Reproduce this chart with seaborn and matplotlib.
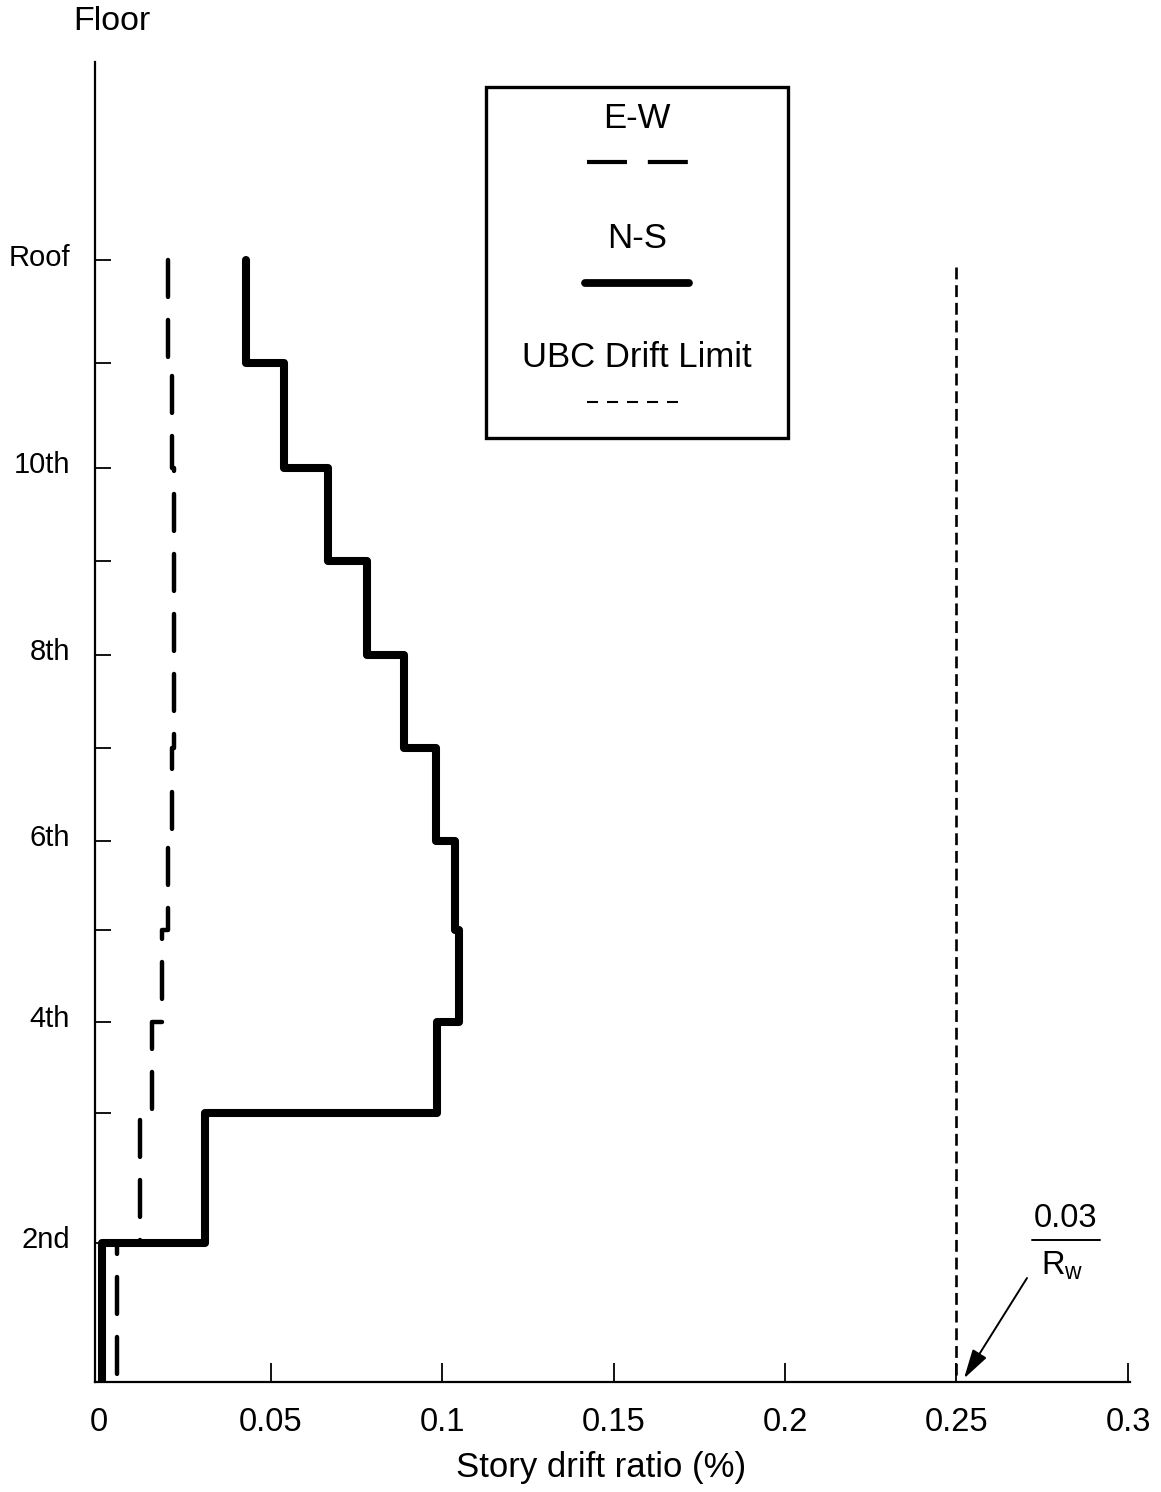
import numpy as np
import pandas as pd
import matplotlib
matplotlib.use("Agg")
import matplotlib.pyplot as plt
import seaborn as sns
from matplotlib.lines import Line2D
from matplotlib.patches import Rectangle
from matplotlib.transforms import ScaledTranslation

# Floor levels above grade (ft), ground to roof
floor_names = ["Ground", "2nd", "3rd", "4th", "5th", "6th", "7th",
               "8th", "9th", "10th", "11th", "Roof"]
floor_elev = [0.0, 19.6, 37.9, 50.7, 63.6, 76.2, 89.3,
              102.4, 115.6, 128.8, 143.5, 158.0]
floor_tick_labels = ["2nd", "", "4th", "", "6th", "", "8th", "", "10th", "", "Roof"]

# Peak story drift ratio (%), story 1 (ground-2nd) up to story 11 (11th-roof)
drift_ns = [0.0008, 0.0310, 0.0985, 0.1050, 0.1038, 0.0983,
            0.0889, 0.0781, 0.0668, 0.0539, 0.0428]
drift_ew = [0.0052, 0.0120, 0.0154, 0.0184, 0.0202, 0.0213,
            0.0219, 0.0219, 0.0219, 0.0212, 0.0202]

# UBC drift limit = 0.03 / Rw
ubc_limit = 0.25

x_ticks = [0, 0.05, 0.1, 0.15, 0.2, 0.25, 0.3]
x_tick_labels = ["0", "0.05", "0.1", "0.15", "0.2", "0.25", "0.3"]


def story_profile(drift, elev):
    """Step profile of a per-story quantity, traced from the roof down."""
    xs, ys = [], []
    for i in range(len(drift) - 1, -1, -1):
        xs += [drift[i], drift[i]]
        ys += [elev[i + 1], elev[i]]
    return pd.DataFrame({"drift": xs, "elev": ys})


sns.set_theme(style="white")
plt.rcParams["font.family"] = ["Liberation Sans", "DejaVu Sans"]
plt.rcParams["mathtext.fontset"] = "custom"
plt.rcParams["mathtext.rm"] = "Liberation Sans"
plt.rcParams["text.color"] = "black"
plt.rcParams["axes.labelcolor"] = "black"
plt.rcParams["xtick.color"] = "black"
plt.rcParams["ytick.color"] = "black"

fig = plt.figure(figsize=(11.61, 14.92), dpi=100)
ax = fig.add_axes([0.0818, 0.0737, 0.8915, 0.8847])

ns_df = story_profile(drift_ns, floor_elev)
ew_df = story_profile(drift_ew, floor_elev)
ubc_df = pd.DataFrame({"drift": [ubc_limit, ubc_limit],
                       "elev": [floor_elev[-1] - 1.0, floor_elev[0]]})

sns.lineplot(data=ubc_df, x="drift", y="elev", sort=False, estimator=None,
             color="black", lw=1.9, ax=ax, linestyle=(0, (4.5, 2.2)))
sns.lineplot(data=ew_df, x="drift", y="elev", sort=False, estimator=None,
             color="black", lw=3.2, ax=ax, linestyle=(0, (8.3, 5.2)),
             dash_capstyle="round")
sns.lineplot(data=ns_df, x="drift", y="elev", sort=False, estimator=None,
             color="black", lw=5.8, ax=ax,
             solid_joinstyle="round", solid_capstyle="round")

ax.set_xlim(-0.0012, 0.3006)
ax.set_ylim(0, 185.9)

ax.set_xticks(x_ticks)
ax.set_xticklabels(x_tick_labels)
ax.set_yticks(floor_elev[1:])
ax.set_yticklabels(floor_tick_labels)

ax.tick_params(axis="x", direction="in", length=14, width=1.3, pad=18,
               labelsize=23.5, colors="black", bottom=True)
ax.tick_params(axis="y", direction="in", length=11.5, width=1.3, pad=18,
               labelsize=21, colors="black", left=True)
for lab in ax.get_yticklabels():
    lab.set_transform(lab.get_transform() +
                      ScaledTranslation(0, 4 / 72, fig.dpi_scale_trans))

ax.set_xlabel("Story drift ratio (%)", fontsize=25, color="black", labelpad=10)
ax.xaxis.set_label_coords(0.489, -0.052)
ax.set_ylabel("")

for side in ["top", "right"]:
    ax.spines[side].set_visible(False)
for side in ["left", "bottom"]:
    ax.spines[side].set_color("black")
    ax.spines[side].set_linewidth(1.6)

fig.text(0.0965, 0.9853, "Floor", fontsize=24.5, ha="center", va="center",
         color="black")

# Key box
ax.add_patch(Rectangle((0.3778, 0.7152), 0.6696 - 0.3778, 0.9811 - 0.7152,
                       transform=ax.transAxes, fill=False, lw=2.4,
                       edgecolor="black", zorder=5))
kx = 0.5237
ax.text(kx, 0.9576, "E-W", transform=ax.transAxes, fontsize=25,
        ha="center", va="center")
ax.add_line(Line2D([0.4754, 0.5729], [0.9242, 0.9242], transform=ax.transAxes,
                   color="black", lw=3.0, linestyle=(0, (9.6, 5.0))))
ax.text(kx, 0.8667, "N-S", transform=ax.transAxes, fontsize=25,
        ha="center", va="center")
ax.add_line(Line2D([0.4734, 0.5739], [0.8326, 0.8326], transform=ax.transAxes,
                   color="black", lw=5.6, solid_capstyle="round"))
ax.text(kx, 0.7765, "UBC Drift Limit", transform=ax.transAxes, fontsize=25,
        ha="center", va="center")
ax.add_line(Line2D([0.4754, 0.5633], [0.7424, 0.7424], transform=ax.transAxes,
                   color="black", lw=1.5, linestyle=(0, (5.3, 4.3))))

# Limit label: 0.03 / Rw with arrow to the axis
ax.text(0.9372, 0.1242, "0.03", transform=ax.transAxes, fontsize=23.5,
        ha="center", va="center")
ax.add_line(Line2D([0.9053, 0.9710], [0.1076, 0.1076], transform=ax.transAxes,
                   color="black", lw=1.4))
ax.text(0.9343, 0.0879, r"R$_{\mathrm{w}}$", transform=ax.transAxes,
        fontsize=23.5, ha="center", va="center")
ax.annotate("", xy=(ubc_limit + 0.0022, 0.5), xycoords="data",
            xytext=(0.9005, 0.0788), textcoords="axes fraction",
            arrowprops=dict(arrowstyle="-|>,head_length=0.9,head_width=0.25",
                            lw=1.4, color="black", shrinkA=0, shrinkB=0,
                            mutation_scale=20))

fig.savefig("out.png", dpi=100, facecolor="white")
